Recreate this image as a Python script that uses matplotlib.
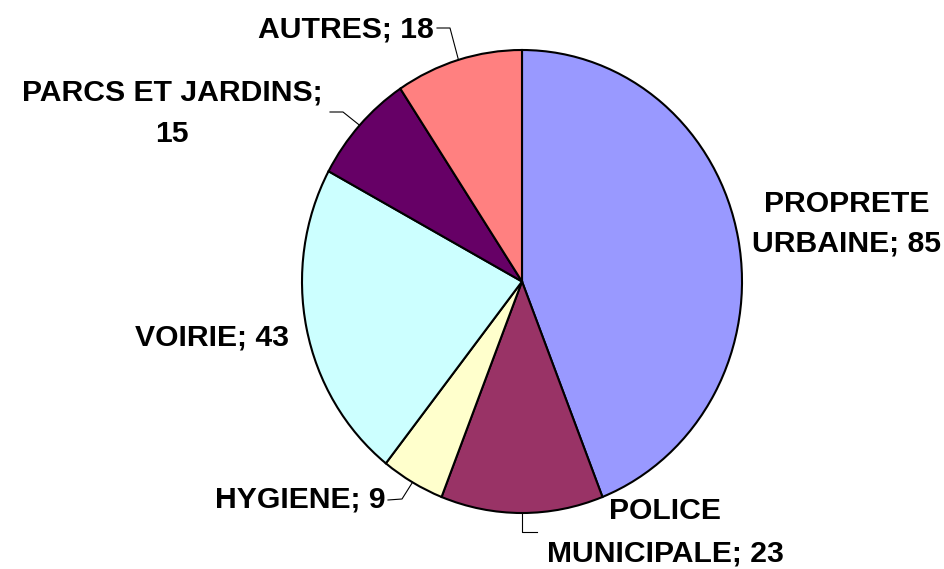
import numpy as np
import matplotlib
matplotlib.use('Agg')
import matplotlib.pyplot as plt

# data
categories = ['PROPRETE URBAINE', 'POLICE MUNICIPALE', 'HYGIENE', 'VOIRIE',
              'PARCS ET JARDINS', 'AUTRES']
values = [85, 23, 9, 43, 15, 18]
colors = ['#9999FF', '#993366', '#FFFFCC', '#CCFFFF', '#660066', '#FF8080']

# label lines (as drawn in the chart) per slice
label_lines = [['PROPRETE', 'URBAINE; 85'],
               ['POLICE', 'MUNICIPALE; 23'],
               ['HYGIENE; 9'],
               ['VOIRIE; 43'],
               ['PARCS ET JARDINS;', '15'],
               ['AUTRES; 18']]

W, H = 945, 569
plt.rcParams['font.family'] = ['Liberation Sans', 'DejaVu Sans']
fig = plt.figure(figsize=(W / 100, H / 100), dpi=100)

# pie centre / radii in pixels (image coords, y from top)
cx, cy, rx, ry = 522, 281.5, 220, 231.5
lim = 1.3
ax = fig.add_axes([(cx - lim * rx) / W, (H - cy - lim * ry) / H,
                   2 * lim * rx / W, 2 * lim * ry / H])
wedges, _ = ax.pie(values, colors=colors, startangle=90, counterclock=False,
                   wedgeprops=dict(edgecolor='black', linewidth=1.5))
ax.set_aspect('auto')
ax.set_xlim(-lim, lim)
ax.set_ylim(-lim, lim)
ax.axis('off')


def px2data(px, py):
    return (px - cx) / rx, (cy - py) / ry


# label layout: (x, baseline y of first line, ha, line gap) in pixels
label_pos = [(847, 212, 'center', 40),
             (665, 519, 'center', 42),
             (386, 508, 'right', 0),
             (289, 345, 'right', 0),
             (172, 101, 'center', 41),
             (434, 38, 'right', 0)]

# leader lines: elbow and end points in pixels (None = no leader)
leaders = [None,
           [(522, 532), (537, 532)],
           [(402, 499), (388, 500)],
           None,
           [(343, 112), (330, 112)],
           [(450, 28), (437, 28)]]

for w, lines, (lx, ly, ha, gap), ld in zip(wedges, label_lines, label_pos, leaders):
    for i, s in enumerate(lines):
        fig.text(lx / W, 1 - (ly + i * gap) / H, s, ha=ha, va='baseline',
                 fontsize=21.7, fontweight='bold', color='black')
    if ld is not None:
        mid = np.deg2rad((w.theta1 + w.theta2) / 2)
        xs = [np.cos(mid)] + [px2data(*p)[0] for p in ld]
        ys = [np.sin(mid)] + [px2data(*p)[1] for p in ld]
        ax.plot(xs, ys, color='black', linewidth=0.8, clip_on=False)

fig.savefig('out.png', dpi=100)
